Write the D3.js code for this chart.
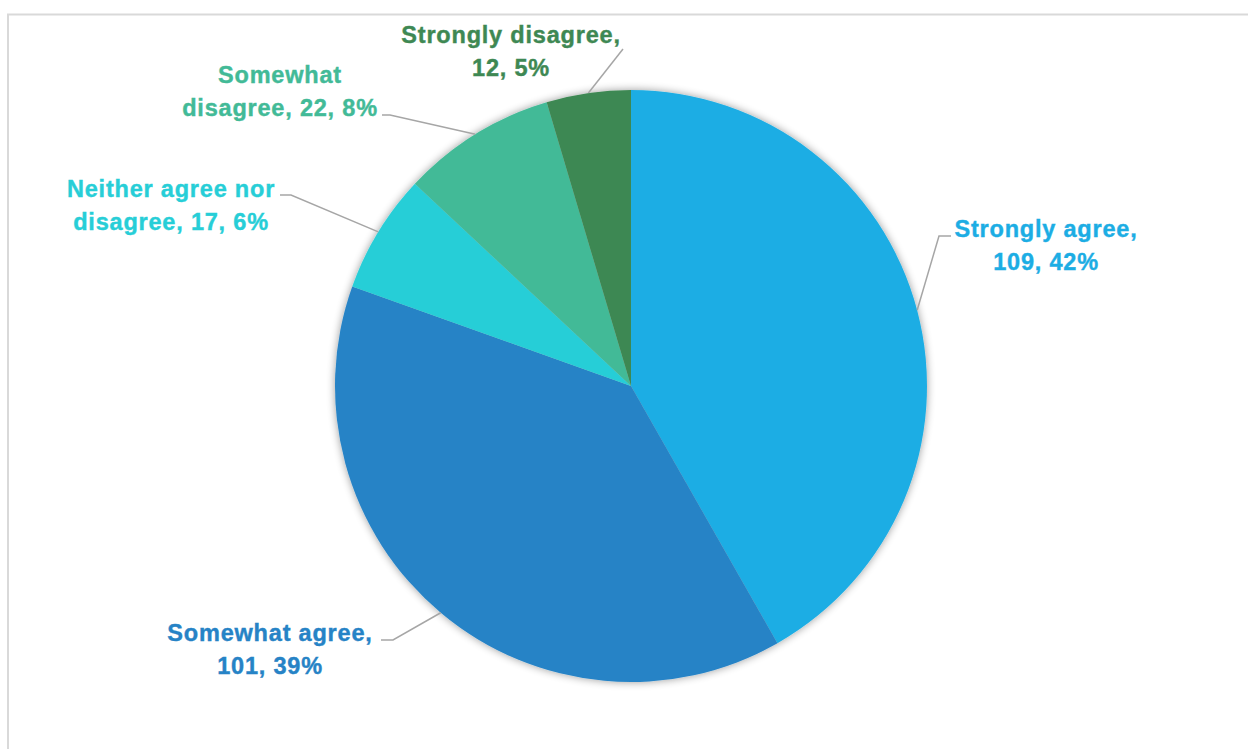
<!DOCTYPE html>
<html>
<head>
<meta charset="utf-8">
<script src="https://cdn.jsdelivr.net/npm/d3@7"></script>
<style>
  html, body { margin: 0; padding: 0; background: #ffffff; }
  svg { display: block; }
  .lbl { font-family: "Liberation Sans", Arial, sans-serif; font-weight: bold; font-size: 23.5px; letter-spacing: 0.8px; stroke-width: 0.4px; }
</style>
</head>
<body>
<svg id="chart" width="1248" height="749"></svg>
<script>
// Survey responses
const categories = ["Strongly agree", "Somewhat agree", "Neither agree nor disagree", "Somewhat disagree", "Strongly disagree"];
const counts = [109, 101, 17, 22, 12];
const percentLabels = ["42%", "39%", "6%", "8%", "5%"];
const colors = ["#1cade4", "#2683c6", "#27ced7", "#42ba97", "#3e8853"];

// Label text lines per slice
const labelLines = [
  ["Strongly agree,", "109, 42%"],
  ["Somewhat agree,", "101, 39%"],
  ["Neither agree nor", "disagree, 17, 6%"],
  ["Somewhat", "disagree, 22, 8%"],
  ["Strongly disagree,", "12, 5%"]
];

// Label placement: text centre x, first baseline y, leader elbow and end
const labelLayout = [
  { x: 1046, y: 237, elbow: [939, 236], end: [951, 236] },
  { x: 270,  y: 641, elbow: [393, 640], end: [381, 640] },
  { x: 171,  y: 197, elbow: [291, 195], end: [280, 195] },
  { x: 280,  y: 83,  elbow: [390, 115], end: [382, 115] },
  { x: 511,  y: 43,  elbow: [623, 49],  end: null }
];

const svg = d3.select("#chart");
const cx = 631, cy = 386, r = 296;

// Chart area frame
svg.append("rect")
  .attr("x", 8).attr("y", 14.5)
  .attr("width", 1400).attr("height", 900)
  .attr("fill", "none")
  .attr("stroke", "#d9d9d9")
  .attr("stroke-width", 2);

// Soft shadow around the pie
const defs = svg.append("defs");
const f = defs.append("filter").attr("id", "pieShadow")
  .attr("x", "-10%").attr("y", "-10%").attr("width", "120%").attr("height", "120%");
f.append("feGaussianBlur").attr("in", "SourceAlpha").attr("stdDeviation", 4.5).attr("result", "b");
f.append("feComponentTransfer").attr("in", "b").attr("result", "s")
  .append("feFuncA").attr("type", "linear").attr("slope", 0.4);
const m = f.append("feMerge");
m.append("feMergeNode").attr("in", "s");
m.append("feMergeNode").attr("in", "SourceGraphic");

const data = categories.map((c, i) => ({ name: c, value: counts[i], pct: percentLabels[i], color: colors[i], i }));

const pie = d3.pie().value(d => d.value).sort(null);
const arcs = pie(data);
const arc = d3.arc().innerRadius(0).outerRadius(r);
const edgeArc = d3.arc().innerRadius(r).outerRadius(r);

const g = svg.append("g").attr("transform", `translate(${cx},${cy})`);
g.append("g").attr("filter", "url(#pieShadow)")
  .selectAll("path")
  .data(arcs)
  .join("path")
  .attr("d", arc)
  .attr("fill", d => d.data.color);

// Leader lines from slice edge to labels
svg.append("g").selectAll("polyline")
  .data(arcs)
  .join("polyline")
  .attr("fill", "none")
  .attr("stroke", "#a6a6a6")
  .attr("stroke-width", 1.5)
  .attr("points", d => {
    const [ex, ey] = edgeArc.centroid(d);
    const L = labelLayout[d.data.i];
    const pts = [[cx + ex, cy + ey], L.elbow];
    if (L.end) pts.push(L.end);
    return pts.map(p => p.join(",")).join(" ");
  });

// Data labels
const lg = svg.append("g");
arcs.forEach(d => {
  const L = labelLayout[d.data.i];
  const t = lg.append("text")
    .attr("class", "lbl")
    .attr("text-anchor", "middle")
    .attr("fill", d.data.color)
    .attr("stroke", d.data.color);
  labelLines[d.data.i].forEach((line, k) => {
    t.append("tspan").attr("x", L.x).attr("y", L.y + k * 32.5).text(line);
  });
});
</script>
</body>
</html>
